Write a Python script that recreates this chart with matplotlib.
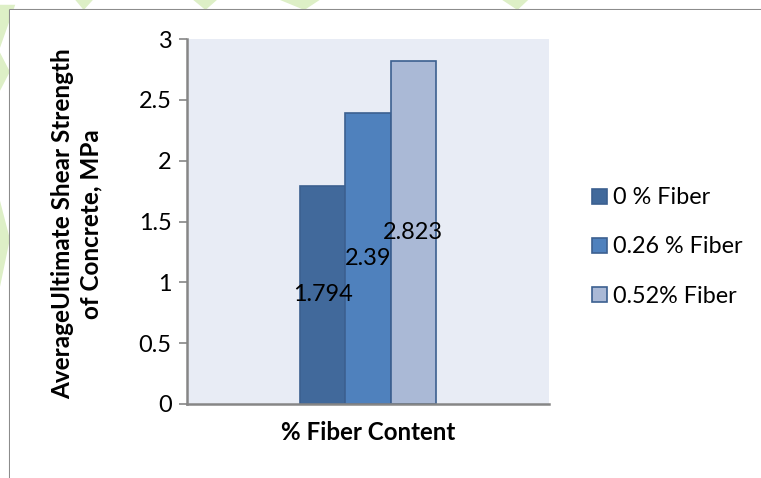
import numpy as np
import matplotlib.pyplot as plt
from matplotlib.patches import Polygon
from matplotlib.lines import Line2D

plt.rcParams['font.family'] = ['Lato', 'DejaVu Sans']

# data
series = ['0 % Fiber', '0.26 % Fiber', '0.52% Fiber']
values = [1.794, 2.39, 2.823]
labels = ['1.794', '2.39', '2.823']
colors = ['#41699B', '#4F81BD', '#AAB9D6']
yticks = [0, 0.5, 1, 1.5, 2, 2.5, 3]
yticklabels = ['0', '0.5', '1', '1.5', '2', '2.5', '3']

W, H = 761, 478
fig = plt.figure(figsize=(W / 100, H / 100), dpi=100)
renderer = fig.canvas.get_renderer()


def fit_size(s, target_px, weight='normal', base=14):
    # font size giving a text of about target_px width
    t = fig.text(0, 0, s, fontsize=base, fontweight=weight)
    wpx = t.get_window_extent(renderer).width
    t.remove()
    return base * target_px / wpx


tick_fs = fit_size('0.5', 33)
leg_fs = fit_size('0.26 % Fiber', 130)
data_fs = fit_size('1.794', 60)
xlab_fs = fit_size('% Fiber Content', 176, 'bold')
ylab_fs = fit_size('AverageUltimate Shear Strength', 354, 'bold')

# light green watermark bits outside the chart frame
for pts in [[(0, 0.90), (0.02, 0.99), (0, 0.99)],
            [(0, 0.81), (0.013, 0.85), (0, 0.89)],
            [(0, 0.40), (0.013, 0.50), (0, 0.58)],
            [(0.099, 1), (0.122, 1), (0.11, 0.979)],
            [(0.254, 1), (0.285, 1), (0.27, 0.979)],
            [(0.368, 1), (0.42, 1), (0.40, 0.979)],
            [(0.66, 1), (0.694, 1), (0.68, 0.979)]]:
    fig.patches.append(Polygon(pts, closed=True, transform=fig.transFigure,
                               facecolor='#DDEFC6', edgecolor='none', zorder=-2))

# chart frame (white area with gray left/top border)
fig.patches.append(Polygon([(10 / W, 0), (10 / W, 1 - 10 / H), (1, 1 - 10 / H), (1, 0)],
                           closed=True, transform=fig.transFigure,
                           facecolor='white', edgecolor='none', zorder=-1))
fig.lines.append(Line2D([10 / W, 10 / W, 1], [0, 1 - 10 / H, 1 - 10 / H],
                        transform=fig.transFigure, color='#8C8C8C', lw=1.5, zorder=-1))

ax = fig.add_axes([187 / W, 74 / H, 362 / W, 365 / H])
ax.set_zorder(1)
ax.set_facecolor('#E8ECF5')

w = 0.25
offsets = [-w, 0, w]
for i in range(len(series)):
    ax.bar(offsets[i], values[i], w, color=colors[i], edgecolor='#3C6090',
           linewidth=1.2, label=series[i], zorder=2)
    ax.text(offsets[i], values[i] / 2, labels[i], ha='center', va='center',
            fontsize=data_fs, color='black', zorder=3)

ax.set_xlim(-1, 1)
ax.set_ylim(0, 3)
ax.set_yticks(yticks)
ax.set_yticklabels(yticklabels)
ax.set_xticks([])
ax.tick_params(axis='y', labelsize=tick_fs, length=6, width=1.2, color='#868686', pad=5)
for s in ['top', 'right']:
    ax.spines[s].set_visible(False)
for s in ['left', 'bottom']:
    ax.spines[s].set_color('#868686')
    ax.spines[s].set_linewidth(1.8)

ax.set_xlabel('% Fiber Content', fontsize=xlab_fs, fontweight='bold')
ax.xaxis.set_label_coords(0.5, -(433 - 404) / 365)
ax.xaxis.label.set_va('center')
ax.set_ylabel('AverageUltimate Shear Strength\nof Concrete, MPa', fontsize=ylab_fs,
              fontweight='bold', linespacing=1.25)
ax.yaxis.set_label_coords((77 - 187) / 362, (404 - 224) / 365)
ax.yaxis.label.set_va('center')

leg_px = leg_fs * 100 / 72
ax.legend(loc='center left', bbox_to_anchor=((592 - 187) / 362, (404 - 247) / 365),
          frameon=False, fontsize=leg_fs, borderpad=0, borderaxespad=0,
          handlelength=15 / leg_px, handleheight=15 / leg_px,
          handletextpad=6 / leg_px, labelspacing=1.2)

fig.savefig('out.png', dpi=100)
